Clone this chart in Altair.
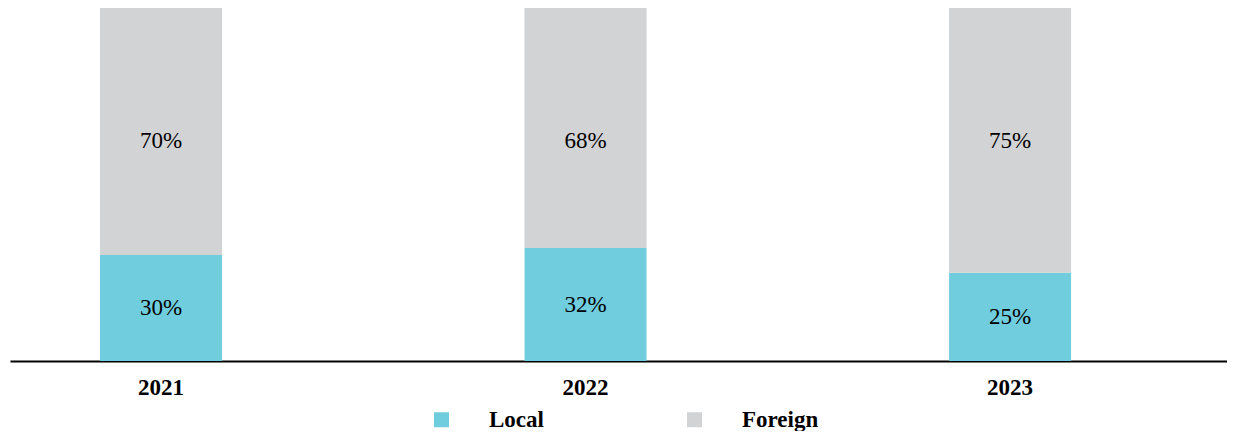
import altair as alt
import pandas as pd

years = ["2021", "2022", "2023"]
local = [30, 32, 25]
foreign = [70, 68, 75]
series = ["Local", "Foreign"]
colors = ["#70CDDE", "#D2D3D5"]

rows = []
for y, l, f in zip(years, local, foreign):
    rows.append({"year": y, "type": "Local", "value": l, "order": 0})
    rows.append({"year": y, "type": "Foreign", "value": f, "order": 1})
df = pd.DataFrame(rows)

FONT = "Liberation Serif"

x_enc = alt.X(
    "year:N",
    sort=years,
    scale=alt.Scale(paddingInner=0.7126, paddingOuter=0.2897, align=0.366),
    axis=alt.Axis(
        title=None, labelAngle=0, ticks=False, labelPadding=15,
        labelFont=FONT, labelFontSize=23, labelFontWeight="bold", labelColor="black",
        domainColor="black", domainWidth=2, grid=False,
    ),
)
y_scale = alt.Scale(domain=[0, 100], nice=False)

bars = alt.Chart(df).mark_bar().encode(
    x=x_enc,
    y=alt.Y("value:Q", stack="zero", scale=y_scale, axis=None),
    order=alt.Order("order:Q"),
    color=alt.Color(
        "type:N",
        scale=alt.Scale(domain=series, range=colors),
        sort=series,
        legend=alt.Legend(
            title=None, orient="none", direction="horizontal",
            legendX=420, legendY=400, padding=0,
            symbolType="square", symbolSize=225, symbolStrokeWidth=0,
            labelFont=FONT, labelFontSize=23, labelFontWeight="bold", labelColor="black",
            labelOffset=36, columnPadding=139,
        ),
    ),
)

labels = alt.Chart(df).transform_calculate(
    pos="datum.type == 'Local' ? datum.value / 2 : 62.3",
    txt="datum.value + '%'",
).mark_text(font=FONT, fontSize=23, color="black", baseline="middle").encode(
    x=alt.X("year:N", sort=years),
    y=alt.Y("pos:Q", scale=y_scale),
    text="txt:N",
)

chart = (
    alt.layer(bars, labels)
    .properties(
        width=1217, height=353,
        background="white",
        autosize=alt.AutoSizeParams(type="none"),
        padding={"left": 2, "top": 0, "right": 0, "bottom": 70},
    )
    .configure_view(strokeWidth=0, stroke="transparent")
)

chart.save("out.html", embed_options={"renderer": "svg", "actions": False})
